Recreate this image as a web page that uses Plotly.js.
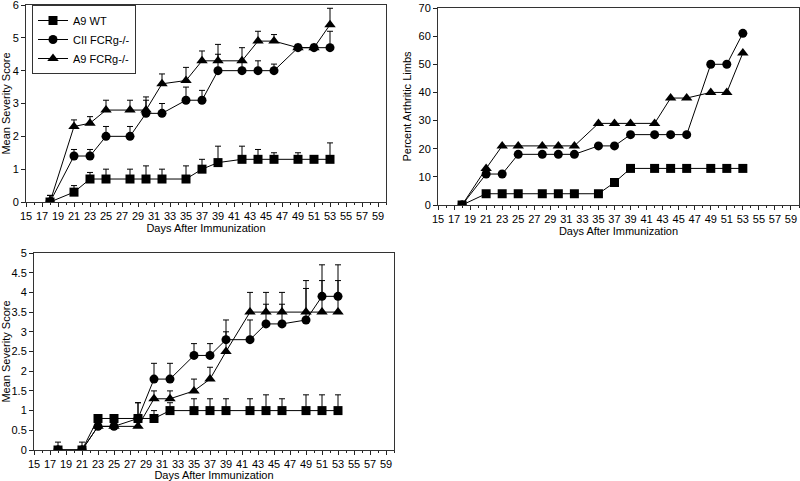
<!DOCTYPE html>
<html>
<head>
<meta charset="utf-8">
<script src="https://cdn.plot.ly/plotly-3.0.1.min.js"></script>
<style>
  html, body { margin: 0; padding: 0; background: #fff; }
  #chart { width: 800px; height: 481px; }
</style>
</head>
<body>
<div id="chart"></div>
<script>
// days after immunization (same sampling in all three panels)
const days = [18, 21, 23, 25, 28, 30, 32, 35, 37, 39, 42, 44, 46, 49, 51, 53];
const groups = ["A9 WT", "CII FCRg-/-", "A9 FCRg-/-"];
const xTicks = [15, 17, 19, 21, 23, 25, 27, 29, 31, 33, 35, 37, 39, 41, 43, 45, 47, 49, 51, 53, 55, 57, 59];

// panel A: mean severity score
const sevA_wt   = [0, 0.3, 0.7, 0.7, 0.7, 0.7, 0.7, 0.7, 1.0, 1.2, 1.3, 1.3, 1.3, 1.3, 1.3, 1.3];
const sevA_wtE  = [0.2, 0.2, 0.2, 0.3, 0.3, 0.4, 0.3, 0.4, 0.3, 0.5, 0.4, 0.3, 0.2, 0.2, 0.1, 0.5];
const sevA_cii  = [0, 1.4, 1.4, 2.0, 2.0, 2.7, 2.7, 3.1, 3.1, 4.0, 4.0, 4.0, 4.0, 4.7, 4.7, 4.7];
const sevA_ciiE = [0.2, 0.2, 0.2, 0.3, 0.3, 0.4, 0.3, 0.4, 0.3, 0.5, 0.3, 0.3, 0.2, 0.1, 0.1, 0.5];
const sevA_ko   = [0, 2.3, 2.4, 2.8, 2.8, 2.8, 3.6, 3.7, 4.3, 4.3, 4.3, 4.9, 4.9, 4.7, 4.7, 5.4];
const sevA_koE  = [0.2, 0.2, 0.2, 0.3, 0.3, 0.4, 0.3, 0.4, 0.3, 0.5, 0.4, 0.3, 0.2, 0.1, 0.1, 0.5];

// panel B: percent arthritic limbs
const pctB_wt  = [0, 4, 4, 4, 4, 4, 4, 4, 8, 13, 13, 13, 13, 13, 13, 13];
const pctB_cii = [0, 11, 11, 18, 18, 18, 18, 21, 21, 25, 25, 25, 25, 50, 50, 61];
const pctB_ko  = [0, 13, 21, 21, 21, 21, 21, 29, 29, 29, 29, 38, 38, 40, 40, 54];

// panel C: mean severity score
const sevC_wt   = [0, 0, 0.8, 0.8, 0.8, 0.8, 1.0, 1.0, 1.0, 1.0, 1.0, 1.0, 1.0, 1.0, 1.0, 1.0];
const sevC_wtE  = [0.2, 0.2, 0, 0, 0.4, 0.2, 0.2, 0.3, 0.3, 0.3, 0.3, 0.4, 0.3, 0.4, 0.4, 0.4];
const sevC_cii  = [0, 0, 0.6, 0.6, 0.8, 1.8, 1.8, 2.4, 2.4, 2.8, 2.8, 3.2, 3.2, 3.3, 3.9, 3.9];
const sevC_ciiE = [0, 0, 0, 0, 0.4, 0.4, 0.4, 0.3, 0.3, 0.5, 0.5, 0.5, 0.5, 0.8, 0.8, 0.8];
const sevC_ko   = [0, 0, 0.6, 0.6, 0.6, 1.3, 1.3, 1.5, 1.8, 2.5, 3.5, 3.5, 3.5, 3.5, 3.5, 3.5];
const sevC_koE  = [0, 0, 0, 0, 0, 0.2, 0.2, 0.3, 0.3, 0.5, 0.5, 0.5, 0.5, 0.8, 0.8, 0.8];

const symbols = ["square", "circle", "triangle-up"];
const sizes = [9, 9, 10];

function series(i, y, err, xa, ya, legend) {
  const t = {
    x: days, y: y, name: groups[i],
    type: "scatter", mode: "lines+markers",
    xaxis: xa, yaxis: ya,
    showlegend: legend,
    line: { color: "black", width: 1 },
    marker: { symbol: symbols[i], size: sizes[i], color: "black" }
  };
  if (err) {
    t.error_y = {
      type: "data", symmetric: false,
      array: err, arrayminus: err.map(() => 0),
      color: "black", thickness: 1, width: 3
    };
  }
  return t;
}

const data = [
  series(0, sevA_wt, sevA_wtE, "x", "y", true),
  series(1, sevA_cii, sevA_ciiE, "x", "y", true),
  series(2, sevA_ko, sevA_koE, "x", "y", true),
  series(0, pctB_wt, null, "x2", "y2", false),
  series(1, pctB_cii, null, "x2", "y2", false),
  series(2, pctB_ko, null, "x2", "y2", false),
  series(0, sevC_wt, sevC_wtE, "x3", "y3", false),
  series(1, sevC_cii, sevC_ciiE, "x3", "y3", false),
  series(2, sevC_ko, sevC_koE, "x3", "y3", false)
];

const W = 800, H = 481;
const font = { family: "Liberation Sans, Arial, sans-serif", size: 11, color: "black" };

function xAxis(px0, px1, anchor) {
  return {
    domain: [px0 / W, px1 / W], anchor: anchor,
    range: [15, 60], tickvals: xTicks,
    ticks: "outside", ticklen: 4, tickcolor: "#222",
    minor: { tick0: 15, dtick: 1, ticks: "outside", ticklen: 2, tickcolor: "#222" },
    showline: true, linecolor: "#333", linewidth: 1, mirror: true,
    showgrid: false, zeroline: false, automargin: false,
    ticklabeloverflow: "allow",
    tickfont: font,
    title: { text: "Days After Immunization", font: font, standoff: 2 }
  };
}
function yAxis(py0, py1, anchor, range, dtick, title) {
  return {
    domain: [1 - py1 / H, 1 - py0 / H], anchor: anchor,
    range: range, dtick: dtick, tick0: 0,
    ticks: "outside", ticklen: 4, tickcolor: "#222",
    showline: true, linecolor: "#333", linewidth: 1, mirror: true,
    showgrid: false, zeroline: false, automargin: false,
    ticklabeloverflow: "allow",
    tickfont: font,
    title: { text: title, font: font, standoff: 4 }
  };
}

const layout = {
  width: W, height: H,
  margin: { l: 0, r: 0, t: 0, b: 0 },
  paper_bgcolor: "white", plot_bgcolor: "white",
  font: font,
  showlegend: true,
  legend: {
    x: 32 / W, y: 1 - 5 / H, xanchor: "left", yanchor: "top",
    bgcolor: "white", bordercolor: "#333", borderwidth: 1,
    font: font
  },
  xaxis: xAxis(26, 386, "y"),
  yaxis: yAxis(5, 202, "x", [0, 6], 1, "Mean Severity Score"),
  xaxis2: xAxis(438, 799, "y2"),
  yaxis2: yAxis(8, 205, "x2", [0, 70], 10, "Percent Arthritic Limbs"),
  xaxis3: xAxis(34, 394, "y3"),
  yaxis3: yAxis(253, 450, "x3", [0, 5], 0.5, "Mean Severity Score")
};

Plotly.newPlot("chart", data, layout, { displayModeBar: false, staticPlot: true });
</script>
</body>
</html>
